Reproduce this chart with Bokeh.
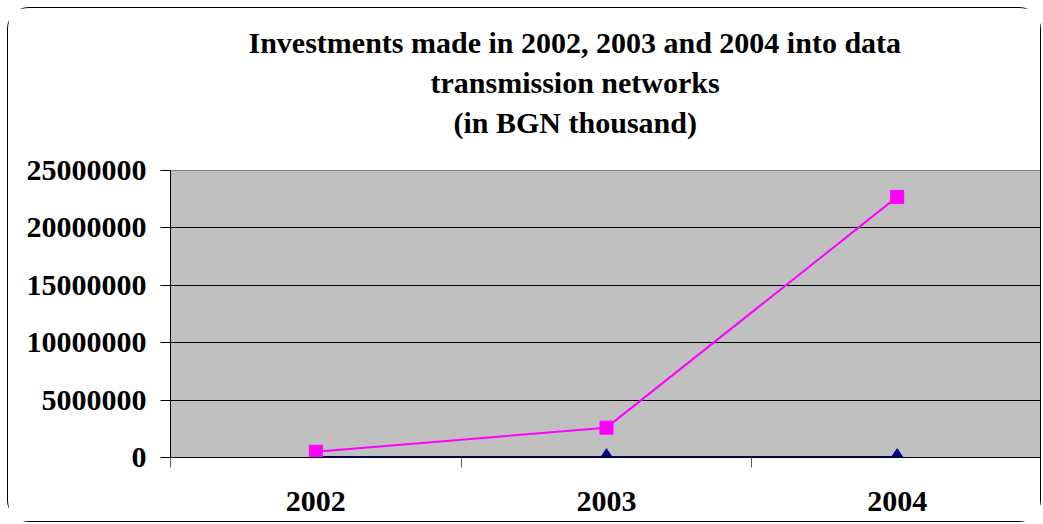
from bokeh.plotting import figure
from bokeh.models import FixedTicker, NumeralTickFormatter, Title, Range1d
from bokeh.embed import file_html
from bokeh.resources import INLINE

categories = ["2002", "2003", "2004"]
series_a = [15000, 22000, 30000]            # navy diamonds (near zero)
series_b = [500000, 2600000, 22700000]      # magenta squares
y_ticks = [0, 5000000, 10000000, 15000000, 20000000, 25000000]
title_lines = ["Investments made in 2002, 2003 and 2004 into data",
               "transmission networks",
               "(in BGN thousand)"]

x_pos = [i + 0.5 for i in range(len(categories))]
boundaries = list(range(len(categories) + 1))
Y_MAX = y_ticks[-1]

FONT = "Liberation Serif"
W, H = 1034, 515
BL, BR, BT, BB = 162, 0, 162, 66

p = figure(width=W, height=H, output_backend="svg", toolbar_location=None,
           x_range=Range1d(0, len(categories)), y_range=Range1d(0, Y_MAX),
           min_border_left=BL, min_border_right=BR, min_border_top=BT, min_border_bottom=BB,
           background_fill_color="#C0C0C0", border_fill_color="white",
           outline_line_color="#808080",
           styles={"margin-left": "7px", "margin-top": "7px",
                   "border": "1px solid black", "border-radius": "22px"})

p.xgrid.visible = False
p.ygrid.ticker = FixedTicker(ticks=y_ticks)
p.ygrid.grid_line_color = "black"
p.ygrid.grid_line_width = 1

# y axis
p.yaxis.ticker = FixedTicker(ticks=y_ticks)
p.yaxis.formatter = NumeralTickFormatter(format="0")
p.yaxis.axis_line_color = "black"
p.yaxis.major_tick_line_color = "black"
p.yaxis.major_tick_out = 10
p.yaxis.major_tick_in = 0
p.yaxis.minor_tick_line_color = None
p.yaxis.major_label_standoff = 14
p.yaxis.major_label_text_font = FONT
p.yaxis.major_label_text_font_style = "bold"
p.yaxis.major_label_text_font_size = "30px"
p.yaxis.major_label_text_color = "black"

# x axis: labels at centres, ticks at category boundaries
p.xaxis.ticker = FixedTicker(ticks=x_pos, minor_ticks=boundaries)
p.xaxis.major_label_overrides = {x: c for x, c in zip(x_pos, categories)}
p.xaxis.axis_line_color = "black"
p.xaxis.major_tick_line_color = None
p.xaxis.major_tick_out = 0
p.xaxis.major_tick_in = 0
p.xaxis.minor_tick_line_color = "#606060"
p.xaxis.minor_tick_out = 10
p.xaxis.minor_tick_in = 0
p.xaxis.major_label_standoff = 24
p.xaxis.major_label_text_font = FONT
p.xaxis.major_label_text_font_style = "bold"
p.xaxis.major_label_text_font_size = "30px"
p.xaxis.major_label_text_color = "black"

# series
p.line(x_pos, series_a, line_color="#000080", line_width=2.5)
p.scatter(x_pos, series_a, marker="diamond", size=17, fill_color="#000080", line_color="#000080")
p.line(x_pos, series_b, line_color="#FF00FF", line_width=2)
p.scatter(x_pos, series_b, marker="square", size=13, fill_color="#FF00FF", line_color="#FF00FF")

# title: three stacked Title panels above the frame (nearest first)
p.add_layout(Title(text=" ", text_font_size="10px", standoff=16), "above")   # spacer
offsets = [78, 260, 283]
for line, off in reversed(list(zip(title_lines, offsets))):
    p.add_layout(Title(text=line, align="left", offset=off, standoff=5,
                       vertical_align="bottom",
                       text_font=FONT, text_font_style="bold", text_font_size="30px",
                       text_color="black"), "above")

open("out.html", "w").write(file_html(p, INLINE))
